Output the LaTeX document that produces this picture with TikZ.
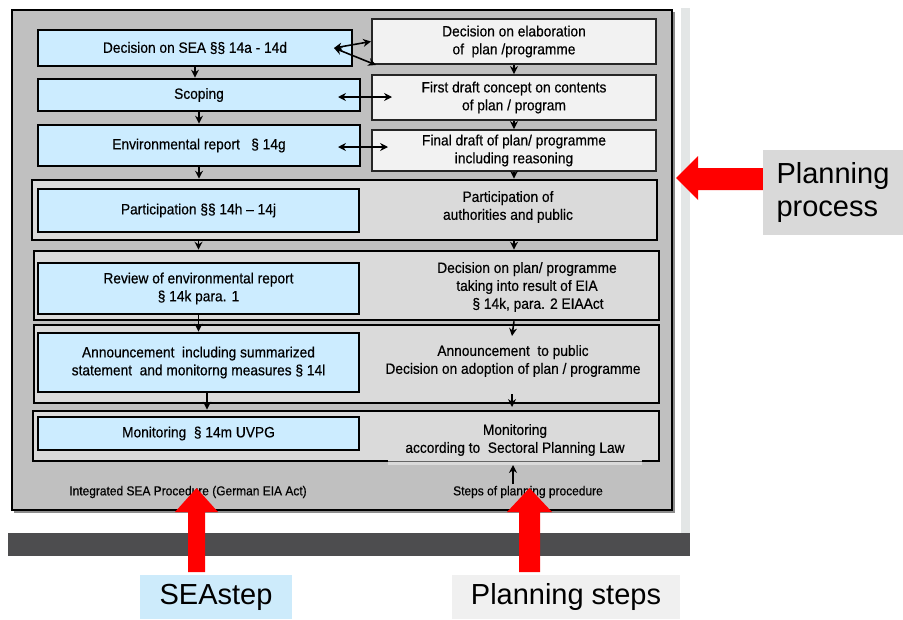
\documentclass[tikz,border=0pt]{standalone}
\usepackage{fontspec}
\setmainfont{Liberation Sans}
\newfontfamily\narsans{Liberation Sans}[FakeStretch=0.92,FakeBold=0.45]
\newcommand\mybxfont{\narsans\fontsize{8.5}{10.2}\selectfont}
\newcommand\mysmfont{\narsans\fontsize{7.4}{8.8}\selectfont}
\newcommand\mybigfont{\fontsize{16.5}{19}\selectfont}
\usetikzlibrary{fit,arrows.meta}
\definecolor{sebl}{RGB}{204,236,255}
\definecolor{cgray}{RGB}{218,218,218}
\definecolor{ogray}{RGB}{192,192,192}
\definecolor{wbox}{RGB}{242,242,242}
\definecolor{stripc}{RGB}{227,230,230}
\definecolor{barc}{RGB}{77,77,79}
\definecolor{lblue}{RGB}{205,235,251}
\definecolor{lgray}{RGB}{240,240,240}
\definecolor{pgray}{RGB}{217,217,217}
\begin{document}
\begin{tikzpicture}[x=0.02cm,y=-0.02cm,
  bluebox/.style={draw=black, line width=1.6pt, fill=sebl, inner sep=0pt},
  whitebox/.style={draw=black!85, line width=1.1pt, fill=wbox, inner sep=0pt},
  contbox/.style={draw=black, line width=1.5pt, fill=cgray, inner sep=0pt},
  outerbox/.style={draw=black, line width=1pt, fill=ogray, inner sep=0pt},
  txt/.style={align=center, font=\mybxfont, inner sep=0pt},
  smtxt/.style={font=\mysmfont, inner sep=0pt},
  biglbl/.style={font=\mybigfont, inner sep=0pt, align=left},
  arr/.style={-{Stealth[length=4.5pt,width=4.5pt]}, line width=0.9pt},
  darr/.style={{Stealth[length=4.5pt,width=4.5pt]}-{Stealth[length=4.5pt,width=4.5pt]}, line width=0.9pt},
  redarrow/.style={fill=red, draw=none}]
\useasboundingbox (0,0) rectangle (903,619);
% background strip and bar
\fill[stripc] (681,8) rectangle (690,533);
\fill[barc] (8,533) rectangle (690,556);
% outer box with shadow
\fill[black!45] (14,12) rectangle (675,513);
\node[outerbox, fit={(12,10)(672,510)}] (outer) {};
% top rows
\node[bluebox, fit={(38,30)(352,66)}] (b1) {};
\node[txt] (b1t) at (b1.center) {Decision on SEA §§ 14a - 14d};
\node[bluebox, fit={(38,79)(360,111)}] (b2) {};
\node[txt] (b2t) at (b2.center) {Scoping};
\node[bluebox, fit={(38,125)(360,166)}] (b3) {};
\node[txt] (b3t) at (b3.center) {Environmental report\ \ \ § 14g};
\node[whitebox, fit={(372,19)(656,64)}] (r1) {};
\node[txt] (r1t) at (r1.center) {Decision on elaboration\\of\ \ plan /programme};
\node[whitebox, fit={(372,75)(656,120)}] (r2) {};
\node[txt] (r2t) at (r2.center) {First draft concept on contents\\of plan / program};
\node[whitebox, fit={(372,130)(656,171)}] (r3) {};
\node[txt] (r3t) at (r3.center) {Final draft of plan/ programme\\including reasoning};
% containers
\node[contbox, fit={(32,180)(657,240)}] (c4) {};
\node[bluebox, fit={(38,189)(359,232)}] (b4) {};
\node[txt] (b4t) at (b4.center) {Participation §§ 14h – 14j};
\node[txt] (t4) at (508,207) {Participation of\\authorities and public};
\node[contbox, fit={(34,251)(659,320)}] (c5) {};
\node[bluebox, fit={(38,263)(359,314)}] (b5) {};
\node[txt] (b5t) at (b5.center) {Review of environmental report\\§ 14k para. 1};
\node[txt] (t5) at (527,287) {Decision on plan/ programme\\taking into result of EIA\\\hspace*{0.44cm}§ 14k, para. 2 EIAAct};
\node[contbox, fit={(34,325)(659,403)}] (c6) {};
\node[bluebox, fit={(38,333)(359,392)}] (b6) {};
\node[txt] (b6t) at (b6.center) {Announcement\ \ including summarized\\statement\ \ and monitorng measures § 14l};
\node[txt] (t6) at (513,361) {Announcement\ \ to public\\Decision on adoption of plan / programme};
\node[contbox, fit={(33,411)(659,461)}] (c7) {};
\fill[cgray] (388,457) rectangle (642,465);
\draw[black!60, line width=0.5pt] (388,461) -- (642,461);
\node[bluebox, fit={(38,417)(359,450)}] (b7) {};
\node[txt] (b7t) at (b7.center) {Monitoring\ \ § 14m UVPG};
\node[txt] (t7) at (515,440) {Monitoring\\according to\ \ Sectoral Planning Law};
% bottom labels
\node[smtxt] (s1) at (188,492) {Integrated SEA Procedure (German EIA Act)};
\node[smtxt] (s2) at (528,492) {Steps of planning procedure};
% left column arrows
\draw[arr] (b1.south) -- (b1.south |- b2.north);
\draw[arr] (b2.south) -- (b2.south |- b3.north);
\draw[arr] (b3.south) -- (b3.south |- c4.north);
\draw[arr] (b4.south |- c4.south) -- (b4.south |- c5.north);
\draw[arr] (b5.south) -- (b6.north);
\draw[arr] ([xshift=0.17cm]b6.south) -- ([xshift=0.17cm]b6.south |- c7.north);
% right column arrows
\draw[arr] (r1.south) -- (r2.north);
\draw[arr] (r2.south) -- (r3.north);
\draw[arr] (r3.south) -- (r3.south |- c4.north);
\draw[arr] (r3.south |- c4.south) -- (r3.south |- c5.north);
\coordinate (e6) at (512,336);
\draw[arr] (r3.south |- c5.south) -- (e6);
\coordinate (f6a) at (512,394);
\coordinate (f6b) at (512,407);
\draw[arr] (f6a) -- (f6b);
\coordinate (u1) at (513,484);
\coordinate (u2) at (513,465);
\draw[arr] (u1) -- (u2);
% double arrows
\coordinate (d0) at (334,48);
\draw[darr] (d0) -- (r1.west);
\draw[darr] (d0) -- ([xshift=0.1cm]r1.south west);
\coordinate (d2a) at (338,97);
\coordinate (d2b) at (392,97);
\draw[darr] (d2a) -- (d2b);
\coordinate (d3a) at (338,147);
\coordinate (d3b) at (388,147);
\draw[darr] (d3a) -- (d3b);
% red arrows
\fill[redarrow] (676,178) -- (698,156) -- (698,168) -- (763,168) -- (763,190) -- (698,190) -- (698,200) -- cycle;
\fill[redarrow] (196.5,488) -- (218,512) -- (205,512) -- (205,572) -- (188,572) -- (188,512) -- (175,512) -- cycle;
\fill[redarrow] (529.5,488) -- (552,512) -- (540,512) -- (540,572) -- (519,572) -- (519,512) -- (507,512) -- cycle;
% big labels
\node[biglbl, fill=pgray, fit={(763,150)(903,235)}] (pp) {};
\node[biglbl] (ppt) at (pp.center) {Planning\\process};
\node[biglbl, fill=lblue, fit={(140,575)(292,619)}] (sea) {};
\node[biglbl] (seat) at (sea.center) {SEAstep};
\node[biglbl, fill=lgray, fit={(452,575)(680,619)}] (ps) {};
\node[biglbl] (pst) at (ps.center) {Planning steps};
\end{tikzpicture}
\end{document}
